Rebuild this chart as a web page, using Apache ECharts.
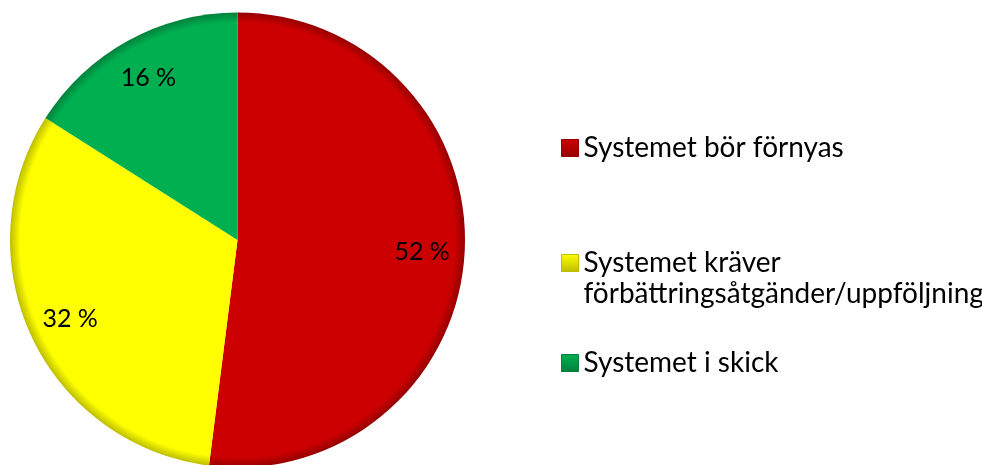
<!DOCTYPE html>
<html>
<head>
<meta charset="utf-8">
<script src="https://cdn.jsdelivr.net/npm/echarts@6/dist/echarts.min.js"></script>
<style>html,body{margin:0;padding:0;background:#fff}#c{width:982px;height:465px}</style>
</head>
<body>
<div id="c"></div>
<script>
var categories = ['Systemet bör förnyas', 'Systemet kräver förbättringsåtgänder/uppföljning', 'Systemet i skick'];
var values = [52, 32, 16];
var baseColors = ['#CC0000', '#FFFF00', '#00B050'];
var edgeColors = ['#950000', '#BDBD00', '#00803C'];

var CX = 237.5, CY = 240, R = 227.5;

function grad(i) {
  return {
    type: 'radial', x: CX, y: CY, r: R, global: true,
    colorStops: [
      {offset: 0, color: baseColors[i]},
      {offset: 0.955, color: baseColors[i]},
      {offset: 1, color: edgeColors[i]}
    ]
  };
}
function iconGrad(i) {
  return {
    type: 'linear', x: 0, y: 0, x2: 0, y2: 1,
    colorStops: [
      {offset: 0, color: baseColors[i]},
      {offset: 1, color: edgeColors[i]}
    ]
  };
}

var mainData = categories.map(function (n, i) {
  return {name: n, value: values[i], itemStyle: {color: grad(i)}};
});
var labelData = categories.map(function (n, i) {
  return {name: n, value: values[i]};
});

var legendTops = [132.5, 216.5, 347.5];
var legends = categories.map(function (n, i) {
  return {
    left: 561, top: legendTops[i], orient: 'vertical', padding: 0,
    itemWidth: 17, itemHeight: 17, itemGap: 7,
    icon: 'rect', selectedMode: false,
    data: [{name: n, itemStyle: {color: iconGrad(i), borderColor: edgeColors[i], borderWidth: 1}}],
    formatter: function (name) {
      if (name.indexOf(' förbättrings') >= 0) {
        return ' \n' + name.replace(' förbättrings', '\nförbättrings');
      }
      return name;
    },
    textStyle: {
      fontFamily: 'Lato', fontSize: 28, color: '#000', lineHeight: 31
    }
  };
});

var chart = echarts.init(document.getElementById('c'), null, {renderer: 'canvas'});
chart.setOption({
  animation: false,
  backgroundColor: '#fff',
  legend: legends,
  series: [
    {
      type: 'pie', center: [CX, CY], radius: R, startAngle: 90, clockwise: true,
      label: {show: false}, labelLine: {show: false}, silent: true,
      itemStyle: {borderWidth: 0},
      data: mainData
    },
    {
      type: 'pie', center: [CX, CY], radius: [R * 0.6, R], startAngle: 90, clockwise: true,
      silent: true, z: 3,
      itemStyle: {color: 'rgba(0,0,0,0)', borderWidth: 0},
      label: {
        show: true, position: 'inside', fontFamily: 'Lato', fontSize: 25, color: '#000',
        formatter: function (p) { return p.value + ' %'; }
      },
      labelLine: {show: false},
      data: labelData
    }
  ]
});
</script>
</body>
</html>
